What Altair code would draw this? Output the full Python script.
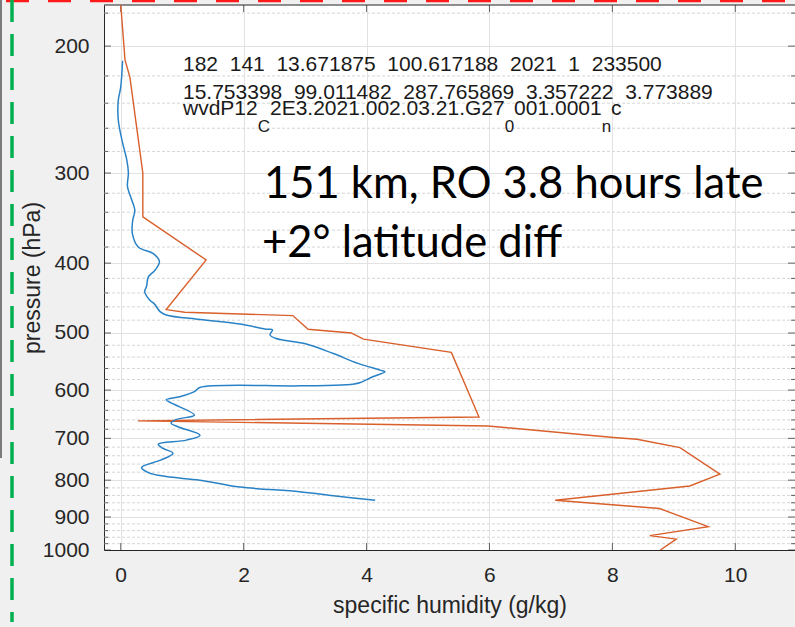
import math
import altair as alt
import pandas as pd

# ---------------- data ----------------
# blue profile: pressure (hPa) and specific humidity (g/kg)
blue_p = [209.6, 228, 238, 253, 270, 288, 300, 313, 327, 338, 349, 364, 380, 388,
          398, 409, 418, 431, 438, 450, 456, 467, 472, 479, 486, 494, 495, 503, 509,
          518, 534, 551, 563, 566, 575, 586, 590, 592, 595, 603, 613, 619, 625, 633,
          650, 659, 667, 675, 693, 704, 713, 723, 734, 750, 768, 781, 791, 800, 818,
          830, 841, 853]
blue_q = [0.03, 0.0, -0.04, -0.04, 0.02, 0.10, 0.125, 0.11, 0.18, 0.23, 0.195, 0.19,
          0.285, 0.53, 0.63, 0.56, 0.45, 0.42, 0.39, 0.47, 0.55, 0.64, 0.74, 1.29, 1.94,
          2.37, 2.47, 2.43, 2.53, 3.02, 3.46, 3.86, 4.22, 4.30, 4.10, 3.89, 3.67, 2.91,
          1.29, 1.20, 0.96, 0.74, 0.82, 0.96, 1.20, 0.91, 0.82, 0.94, 1.29, 1.07, 0.61,
          0.69, 0.85, 0.66, 0.34, 0.45, 0.74, 1.29, 1.94, 2.91, 3.46, 4.14]

# orange profile
orange_p = [175, 209, 221, 300, 345, 396, 464, 468, 473, 494, 500, 510, 532, 654,
            662, 673, 698, 702, 721, 785, 815, 853, 876, 928, 955, 966, 1000]
orange_q = [0.0, 0.07, 0.15, 0.36, 0.36, 1.39, 0.74, 1.04, 2.80, 3.05, 3.75, 3.95,
            5.38, 5.83, 0.28, 5.98, 8.02, 8.40, 9.10, 9.75, 9.26, 7.07, 8.77, 9.56,
            8.61, 9.04, 8.78]

# axes
y_major = [200, 300, 400, 500, 600, 700, 800, 900, 1000]
y_minor = [v for v in range(180, 1000, 20) if v % 100 != 0]
x_ticks = [0, 2, 4, 6, 8, 10]
x_domain = [-0.272, 10.972]
y_domain = [175.4, 1000]

# texts (MATLAB prints the numbers separated by two spaces)
header_values = [["182", "141", "13.671875", "100.617188", "2021", "1", "233500"],
                 ["15.753398", "99.011482", "287.765869", "3.357222", "3.773889"]]
file_parts = ["wvdP12", "C", "2E3.2021.002.03.21.G27", "0", "001.0001", "n", "c"]
file_is_sub = [False, True, False, True, False, True, False]
big_lines = ["151 km, RO 3.8 hours late", "+2° latitude diff"]

# ---------------- layout ----------------
W, H = 691, 545
PAD_L, PAD_T = 104, 5
PX_PER_Q = W / (x_domain[1] - x_domain[0])
LOG_SPAN = math.log10(y_domain[1] / y_domain[0])


def q_at(px):
    """data x for an absolute pixel column"""
    return x_domain[0] + (px - PAD_L) / PX_PER_Q


def p_at(py):
    """data pressure for an absolute pixel row"""
    return y_domain[0] * 10 ** ((py - PAD_T) / H * LOG_SPAN)


FONT = "Liberation Sans"
TXT = "#262626"
F_MAIN, F_SUB = 21, 17
GAP = " \u00a0"  # two visible spaces (SVG collapses plain double spaces)

# Arial advance widths (per 1000 em) for width of text pieces
ARIAL = {"w": 722, "v": 500, "d": 556, "P": 667, "C": 722, "E": 667, ".": 278,
         "G": 778, "n": 556, "c": 500}


def text_w(s, size):
    return sum(ARIAL.get(ch, 556) for ch in s) / 1000 * size


xscale = alt.Scale(domain=x_domain, nice=False, zero=False)
yscale = alt.Scale(type="log", domain=y_domain, nice=False, reverse=True)

xaxis = alt.Axis(values=x_ticks, title="specific humidity (g/kg)", grid=True,
                 gridColor="#e2e2e2", gridWidth=1, domain=True, domainColor=TXT,
                 domainWidth=1, ticks=False, tickSize=0, labelFont=FONT,
                 labelFontSize=21, labelColor=TXT, labelPadding=25,
                 labelBaseline="middle", titleFont=FONT, titleFontSize=23,
                 titleFontWeight="normal", titleColor=TXT, titleY=55,
                 titleBaseline="middle", format="d")
yaxis = alt.Axis(values=y_major, title="pressure (hPa)", grid=True,
                 gridColor="#e2e2e2", gridWidth=1, domain=True, domainColor=TXT,
                 domainWidth=1, ticks=False, tickSize=0, labelFont=FONT,
                 labelFontSize=21, labelColor=TXT, labelPadding=15,
                 labelAlign="right", labelBaseline="middle", titleFont=FONT,
                 titleFontSize=23, titleFontWeight="normal", titleColor=TXT,
                 titleAngle=270, titleX=32 - PAD_L, titleY=H / 2,
                 titleAlign="center", titleBaseline="middle", format="d")

X = alt.X("q:Q", scale=xscale, axis=xaxis)
Y = alt.Y("p:Q", scale=yscale, axis=yaxis)

# ---------------- tables ----------------
blue_df = pd.DataFrame({"p": blue_p, "q": blue_q})
orange_df = pd.DataFrame({"p": orange_p, "q": orange_q})
minor_df = pd.DataFrame({"p": y_minor})
top_df = pd.DataFrame({"p": [y_domain[0]]})

ymaj_ticks = pd.DataFrame({"p": y_major * 2,
                           "q": [x_domain[0]] * len(y_major) + [x_domain[1]] * len(y_major)})
ymin_ticks = pd.DataFrame({"p": y_minor * 2,
                           "q": [x_domain[0]] * len(y_minor) + [x_domain[1]] * len(y_minor)})
x_tick_df = pd.DataFrame({"q": x_ticks * 2,
                          "p": [y_domain[0]] * len(x_ticks) + [y_domain[1]] * len(x_ticks)})

hdr_x = q_at(183)
header_df = pd.DataFrame({"q": [hdr_x, hdr_x], "p": [p_at(71), p_at(99)],
                          "t": [GAP.join(v) for v in header_values]})

main_rows, sub_rows = [], []
cursor = 183.0
for part, sub in zip(file_parts, file_is_sub):
    size = F_SUB if sub else F_MAIN
    row = {"q": q_at(cursor), "p": p_at(131.5 if sub else 115), "t": part}
    (sub_rows if sub else main_rows).append(row)
    cursor += text_w(part, size)
file_main_df = pd.DataFrame(main_rows)
file_sub_df = pd.DataFrame(sub_rows)

big_df = pd.DataFrame({"q": [q_at(264), q_at(262)], "p": [p_at(198), p_at(257)],
                       "t": big_lines})

one = pd.DataFrame({"k": [0]})

# ---------------- layers ----------------
minor_grid = alt.Chart(minor_df).mark_rule(
    color="#d6d6d6", strokeWidth=1, strokeDash=[3, 2]).encode(y=Y)

top_border = alt.Chart(top_df).mark_rule(color=TXT, strokeWidth=1).encode(y=Y)

maj_ticks = alt.Chart(ymaj_ticks).mark_tick(
    orient="horizontal", size=14, thickness=1, color=TXT, clip=True).encode(x=X, y=Y)
min_ticks = alt.Chart(ymin_ticks).mark_tick(
    orient="horizontal", size=8, thickness=1, color=TXT, clip=True).encode(x=X, y=Y)
xt = alt.Chart(x_tick_df).mark_tick(
    orient="vertical", size=14, thickness=1, color=TXT, clip=True).encode(x=X, y=Y)

orange = alt.Chart(orange_df).mark_line(
    color="#d95f2b", strokeWidth=1.4, clip=True).encode(
    x=X, y=Y, order=alt.Order("p:Q"))
blue = alt.Chart(blue_df).mark_line(
    color="#2a82c6", strokeWidth=1.5, interpolate="catmull-rom", clip=True).encode(
    x=X, y=Y, order=alt.Order("p:Q"))

header = alt.Chart(header_df).mark_text(
    align="left", baseline="alphabetic", font=FONT, fontSize=F_MAIN,
    color="#1a1a1a").encode(x=X, y=Y, text="t:N")
file_main = alt.Chart(file_main_df).mark_text(
    align="left", baseline="alphabetic", font=FONT, fontSize=F_MAIN,
    color="#1a1a1a").encode(x=X, y=Y, text="t:N")
file_sub = alt.Chart(file_sub_df).mark_text(
    align="left", baseline="alphabetic", font=FONT, fontSize=F_SUB,
    color="#1a1a1a").encode(x=X, y=Y, text="t:N")
big = alt.Chart(big_df).mark_text(
    align="left", baseline="alphabetic", font="Lato", fontSize=43.5,
    color="#000000").encode(x=X, y=Y, text="t:N")

# screenshot frame decorations outside the plot
red_dash = alt.Chart(one).mark_rule(
    color="#ff1a1a", strokeWidth=2.5, strokeDash=[23, 19], strokeDashOffset=-6,
    clip=False).encode(x=alt.value(-PAD_L), x2=alt.value(W), y=alt.value(-4))
green_dash = alt.Chart(one).mark_rule(
    color="#00b050", strokeWidth=3.5, strokeDash=[22, 12], clip=False).encode(
    x=alt.value(12 - PAD_L), y=alt.value(-PAD_T), y2=alt.value(622 - PAD_T))
left_edge = alt.Chart(one).mark_rule(
    color="#555555", strokeWidth=1.5, clip=False).encode(
    x=alt.value(1 - PAD_L), y=alt.value(-PAD_T), y2=alt.value(458 - PAD_T))

chart = alt.layer(
    minor_grid, top_border, maj_ticks, min_ticks, xt, orange, blue,
    header, file_main, file_sub, big, red_dash, green_dash, left_edge
).properties(
    width=W, height=H, background="#f0f0f0",
    padding={"left": PAD_L, "top": PAD_T, "right": 0, "bottom": 627 - PAD_T - H},
    autosize=alt.AutoSizeParams(type="none"),
).configure_view(fill="white", stroke="transparent")

chart.save("out.html", embed_options={"renderer": "svg", "actions": False})
